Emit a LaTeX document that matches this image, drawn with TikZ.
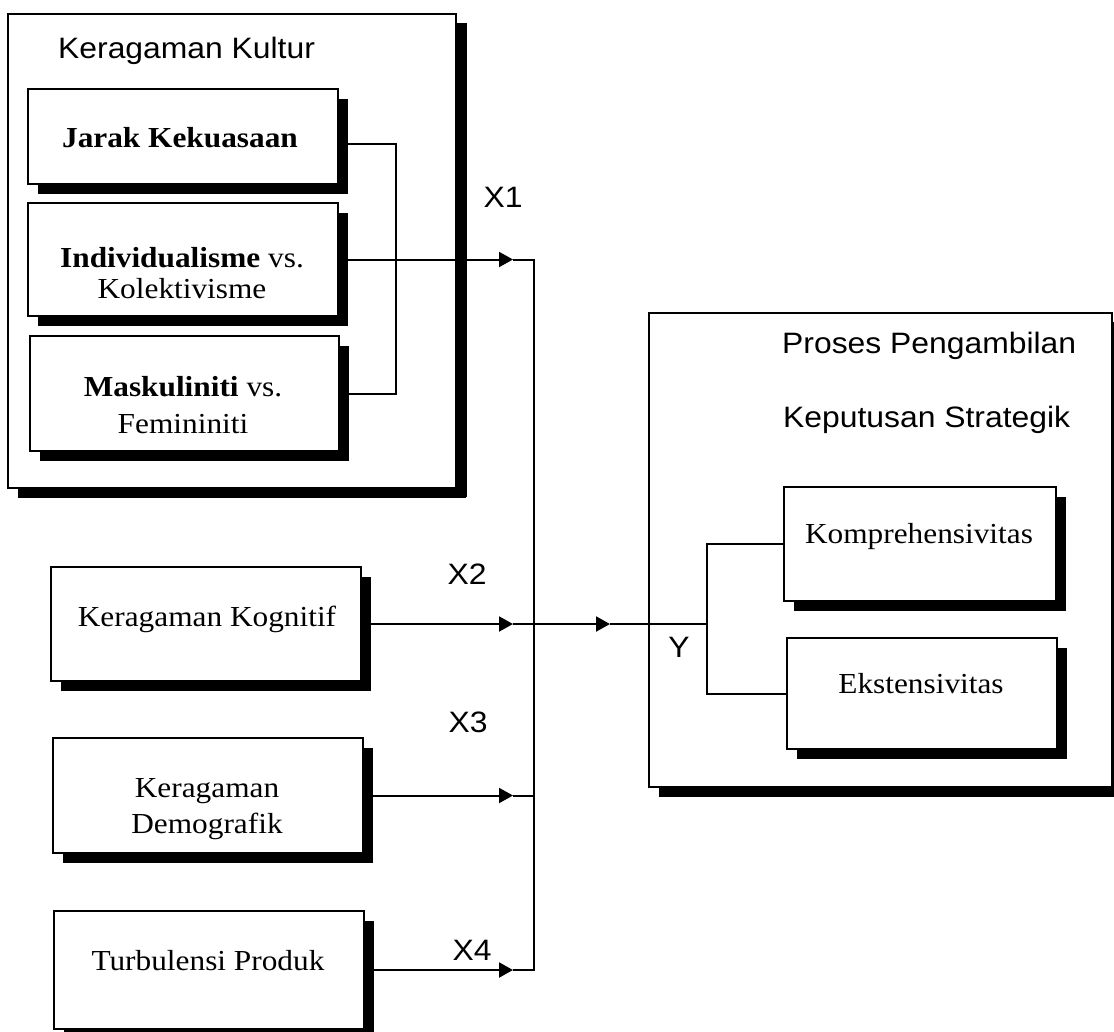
\documentclass[tikz,border=0pt]{standalone}
\usepackage{fontspec}
\setmainfont[FakeStretch=1.08]{Liberation Serif}
\newfontfamily\sansf[FakeStretch=1.08]{Liberation Sans}
\usetikzlibrary{arrows.meta,shadows}
\begin{document}
\begin{tikzpicture}[x=1pt,y=-1pt,
  box/.style={draw, line width=2pt, fill=white, inner sep=0pt, anchor=north west,
    drop shadow={shadow xshift=10pt, shadow yshift=-10pt, opacity=1, fill=black}},
  bigbox/.style={box, drop shadow={shadow xshift=11pt, shadow yshift=-9pt, opacity=1, fill=black}},
  txt/.style={font=\fontsize{29}{34}\selectfont, inner sep=0pt, anchor=base},
  stxt/.style={font=\sansf\fontsize{29.5}{34}\selectfont, inner sep=0pt},
  conn/.style={line width=2pt},
  arr/.style={conn, -{Triangle[length=14pt,width=15pt]}}]
\useasboundingbox (0,0) rectangle (1114,1031);
\fill[white] (0,0) rectangle (1114,1031);

% outer boxes
\node[bigbox, minimum width=448pt, minimum height=474pt] (kultur) at (7,13) {};
\node[bigbox, minimum width=463pt, minimum height=474pt] (proses) at (648,312) {};

% inner boxes
\node[box, minimum width=310pt, minimum height=95pt]  (jarak) at (27,88) {};
\node[box, minimum width=310pt, minimum height=113pt] (indiv) at (27,202) {};
\node[box, minimum width=309pt, minimum height=115pt] (mask)  at (29,335) {};
\node[box, minimum width=310pt, minimum height=114pt] (kog)   at (50,566) {};
\node[box, minimum width=310pt, minimum height=115pt] (demo)  at (52,737) {};
\node[box, minimum width=310pt, minimum height=118pt] (turb)  at (53,910) {};
\node[box, minimum width=272pt, minimum height=114pt] (komp)  at (783,486) {};
\node[box, minimum width=270pt, minimum height=111pt] (ekst)  at (786,637) {};

% titles
\node[stxt, anchor=base west] (kulturT) at (58,58) {Keragaman Kultur};
\node[stxt, anchor=base west] (prosesT1) at (782,353) {Proses Pengambilan};
\node[stxt, anchor=base west] (prosesT2) at (783,427) {Keputusan Strategik};

% box texts
\node[txt] (jarakT) at (180,147) {\textbf{Jarak Kekuasaan}};
\node[txt] (indivT1) at (182,267) {\textbf{Individualisme} vs.};
\node[txt] (indivT2) at (182,298) {Kolektivisme};
\node[txt] (maskT1) at (183,396) {\textbf{Maskuliniti} vs.};
\node[txt] (maskT2) at (183,433) {Femininiti};
\node[txt] (kogT) at (207,626) {Keragaman Kognitif};
\node[txt] (demoT1) at (207,797) {Keragaman};
\node[txt] (demoT2) at (207,833) {Demografik};
\node[txt] (turbT) at (208,970) {Turbulensi Produk};
\node[txt] (kompT) at (919,543) {Komprehensivitas};
\node[txt] (ekstT) at (921,693) {Ekstensivitas};

% variable labels
\node[stxt] (x1) at (503,197) {X1};
\node[stxt] (x2) at (467,574) {X2};
\node[stxt] (x3) at (468,722) {X3};
\node[stxt] (x4) at (472,950) {X4};
\node[stxt] (y)  at (679,647) {Y};

% helper columns
\coordinate (brk) at (396,0);
\coordinate (tipc) at (513,0);
\coordinate (busc) at (534,0);
\coordinate (tipm) at (610,0);
\coordinate (splitc) at (707,0);

% bracket of the culture dimensions
\draw[conn] ([yshift=-7.5pt]jarak.east) -| (brk |- mask.east) -- (mask.east);

% X1
\draw[arr] (indiv.east) -- (indiv.east -| tipc);
\draw[conn] (indiv.east -| tipc) -- (indiv.east -| busc) -- (turb.east -| busc) -- (turb.east -| tipc);
% X4
\draw[arr] (turb.east) -- (turb.east -| tipc);
% X3
\draw[arr] (demo.east) -- (demo.east -| tipc);
\draw[conn] (demo.east -| tipc) -- (demo.east -| busc);
% X2 and main line
\draw[arr] (kog.east) -- (kog.east -| tipc);
\draw[arr] (kog.east -| tipc) -- (kog.east -| tipm);
\draw[conn] (kog.east -| tipm) -- (kog.east -| splitc);
% Y bracket
\draw[conn] (komp.west) -| (kog.east -| splitc) |- (ekst.west);
\end{tikzpicture}
\end{document}
